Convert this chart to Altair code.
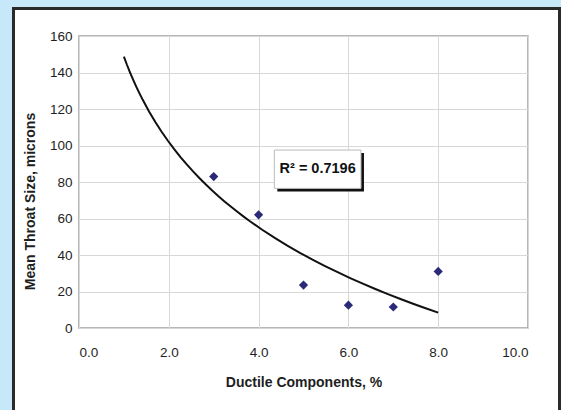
import altair as alt
import pandas as pd

# Measured ductile component content and mean throat size
ductile_pct = [3.0, 4.0, 5.0, 6.0, 7.0, 8.0]
throat_size = [83.0, 62.0, 23.5, 12.5, 11.5, 31.0]

# Axis tick positions
x_ticks = [0, 2, 4, 6, 8, 10]
y_ticks = [0, 20, 40, 60, 80, 100, 120, 140, 160]

# Log trendline range and fit label
trend_extent = [1.0, 8.0]
r2_label = "R\u00b2 = 0.7196"

# Label box corners in data units (x from, x to, y top, y bottom)
box_x = [4.35, 6.28]
box_y = [97.5, 76.5]

W, H = 449, 292
PAD_L, PAD_T = 79, 36
FONT = "Liberation Sans"
SKY = "#c6e8f8"

df = pd.DataFrame({"x": ductile_pct, "y": throat_size})
box_df = pd.DataFrame({
    "x1": [box_x[0]], "x2": [box_x[1]],
    "y1": [box_y[0]], "y2": [box_y[1]],
    "xm": [(box_x[0] + box_x[1]) / 2], "ym": [(box_y[0] + box_y[1]) / 2],
    "label": [r2_label],
})

xscale = alt.Scale(domain=[0, 10], nice=False, zero=False)
yscale = alt.Scale(domain=[0, 160], nice=False)

x_axis = alt.Axis(
    title="Ductile Components, %", values=x_ticks, format=".1f",
    grid=True, gridColor="#d8d8d8", ticks=False, domain=False, labelOverlap=False,
    labelPadding=17, labelFontSize=13.5, labelColor="#1e1e1e", labelFont=FONT,
    titleFont=FONT, titleFontSize=14, titleFontWeight="bold", titleColor="#1e1e1e",
    titlePadding=17,
)
y_axis = alt.Axis(
    title="Mean Throat Size, microns", values=y_ticks, format="d",
    grid=True, gridColor="#d8d8d8", ticks=False, domain=False, labelOverlap=False,
    labelPadding=7, labelFontSize=13.5, labelColor="#1e1e1e", labelFont=FONT,
    titleFont=FONT, titleFontSize=14, titleFontWeight="bold", titleColor="#1e1e1e",
    titleX=30 - PAD_L, titleY=201 - PAD_T, titleBaseline="middle",
)


def X(field):
    return alt.X(field, type="quantitative", scale=xscale, axis=x_axis)


def Y(field):
    return alt.Y(field, type="quantitative", scale=yscale, axis=y_axis)


def frame_piece(x0, x1, y0, y1, **style):
    """A rectangle placed in pixel space around the plot (frame decoration)."""
    return alt.Chart(box_df).mark_rect(clip=False, **style).encode(
        x=alt.value(x0 - PAD_L), x2=alt.value(x1 - PAD_L),
        y=alt.value(y0 - PAD_T), y2=alt.value(y1 - PAD_T),
    )


# Sky-blue margin around the white panel, and the panel's dark outline
sky_left = frame_piece(0, 12, 0, 410, fill=SKY)
sky_top = frame_piece(0, 561, 0, 7, fill=SKY)
outline = frame_piece(13.5, 559.5, 8.5, 420, fillOpacity=0, stroke="#2a2a2a", strokeWidth=3)

trend = alt.Chart(df).transform_regression(
    "x", "y", method="log", extent=trend_extent
).mark_line(color="#111111", strokeWidth=2).encode(x=X("x"), y=Y("y"))

points = alt.Chart(df).mark_point(
    shape="diamond", filled=True, color="#2b2a78", size=85, opacity=1
).encode(x=X("x"), y=Y("y"))

shadow = alt.Chart(box_df).mark_rect(
    color="#111111", xOffset=3, yOffset=3, x2Offset=3, y2Offset=3
).encode(x=X("x1"), x2="x2:Q", y=Y("y1"), y2="y2:Q")
box = alt.Chart(box_df).mark_rect(fill="white", stroke="#bbbbbb", strokeWidth=1).encode(
    x=X("x1"), x2="x2:Q", y=Y("y1"), y2="y2:Q"
)
label = alt.Chart(box_df).mark_text(
    font=FONT, fontSize=14.5, fontWeight="bold", color="#111111"
).encode(x=X("xm"), y=Y("ym"), text="label:N")

chart = alt.layer(sky_left, sky_top, outline, trend, points, shadow, box, label).properties(
    width=W, height=H,
    background="white",
    padding={"left": PAD_L, "top": PAD_T, "right": 561 - PAD_L - W, "bottom": 410 - PAD_T - H},
    autosize=alt.AutoSizeParams(type="none"),
).configure_view(stroke="#a0a0a0", strokeWidth=1.5)

chart.save("out.html", embed_options={"renderer": "svg", "actions": False})
